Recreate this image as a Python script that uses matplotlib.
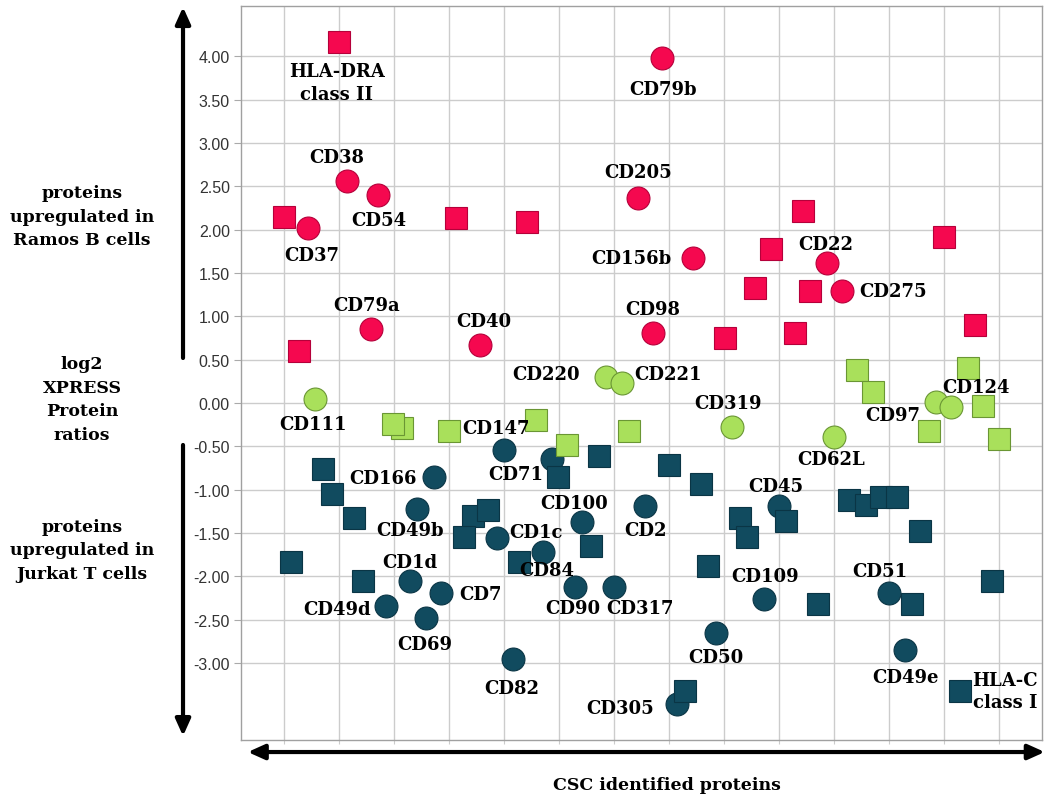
"""CSC proteins: log2 XPRESS ratios Ramos B vs Jurkat T."""
import matplotlib
matplotlib.use('Agg')
import matplotlib.pyplot as plt
from matplotlib.patches import FancyArrowPatch

# --- data ---
# proteins up in Ramos B cells
ramos_sq_x = [2.00, 1.00, 4.13, 5.42, 1.27, 10.44, 9.85, 13.00, 9.56, 10.56, 13.56, 9.02, 10.29]
ramos_sq_y = [4.17, 2.15, 2.13, 2.09, 0.60, 2.22, 1.78, 1.92, 1.33, 1.29, 0.90, 0.75, 0.81]
ramos_sq_names = ["HLA-DRA\nclass II", "", "", "", "", "", "", "", "", "", "", "", ""]

ramos_circ_x = [7.87, 7.44, 8.44, 10.87, 11.15, 7.71, 2.15, 2.71, 1.44, 2.58, 4.56]
ramos_circ_y = [3.98, 2.37, 1.67, 1.61, 1.29, 0.81, 2.56, 2.40, 2.02, 0.85, 0.67]
ramos_circ_names = ["CD79b", "CD205", "CD156b", "CD22", "CD275", "CD98",
                    "CD38", "CD54", "CD37", "CD79a", "CD40"]

# proteins near 0
mid_circ_x = [1.56, 6.85, 7.15, 9.15, 11.00, 12.85, 13.13]
mid_circ_y = [0.05, 0.30, 0.23, -0.28, -0.39, 0.01, -0.05]
mid_circ_names = ["CD111", "CD220", "CD221", "CD319", "CD62L", "CD97", "CD124"]

mid_sq_x = [3.15, 2.98, 4.00, 5.58, 6.15, 7.27, 11.42, 11.71, 13.44, 13.71, 12.73, 14.00]
mid_sq_y = [-0.29, -0.24, -0.32, -0.20, -0.49, -0.32, 0.38, 0.13, 0.40, -0.04, -0.32, -0.42]
mid_sq_names = ["", "", "CD147", "", "", "", "", "", "", "", "", ""]

# proteins up in Jurkat T cells
jurkat_circ_x = [5.00, 5.87, 6.42, 3.73, 3.42, 4.87, 7.56, 5.71, 10.00, 3.29, 3.85,
                 2.85, 3.58, 5.16, 6.29, 7.00, 9.73, 8.85, 8.15, 12.00, 12.29]
jurkat_circ_y = [-0.54, -0.65, -1.37, -0.85, -1.22, -1.56, -1.19, -1.72, -1.19, -2.06, -2.19,
                 -2.34, -2.48, -2.95, -2.13, -2.13, -2.26, -2.66, -3.47, -2.19, -2.85]
jurkat_circ_names = ["CD71", "", "CD100", "CD166", "CD49b", "CD1c", "CD2", "CD84", "CD45",
                     "CD1d", "CD7", "CD49d", "CD69", "CD82", "CD90", "CD317", "CD109",
                     "CD50", "CD305", "CD51", "CD49e"]

jurkat_sq_x = [1.71, 1.87, 2.27, 4.44, 4.71, 4.27, 5.98, 6.73, 6.58, 5.27, 1.13, 2.44,
               8.00, 8.58, 9.29, 9.42, 10.13, 11.27, 11.58, 11.85, 12.15, 12.56,
               8.71, 10.71, 12.42, 13.87, 8.29, 13.29]
jurkat_sq_y = [-0.76, -1.05, -1.33, -1.30, -1.24, -1.55, -0.85, -0.61, -1.65, -1.84, -1.84, -2.05,
               -0.72, -0.94, -1.33, -1.55, -1.36, -1.12, -1.18, -1.09, -1.09, -1.48,
               -1.88, -2.32, -2.32, -2.05, -3.32, -3.32]
jurkat_sq_names = [""] * 27 + ["HLA-C\nclass I"]

y_ticks = [4.0, 3.5, 3.0, 2.5, 2.0, 1.5, 1.0, 0.5, 0.0, -0.5, -1.0, -1.5, -2.0, -2.5, -3.0]

# label offsets from the marker, in pixels (dx right, dy up)
label_offsets = {
    "HLA-DRA\nclass II": (-2, -41), "CD79b": (1, -31), "CD205": (0, 26),
    "CD156b": (-62, 0), "CD22": (-1, 19), "CD275": (51, 0), "CD98": (0, 24),
    "CD38": (-10, 24), "CD54": (1, -25), "CD37": (4, -27), "CD79a": (-4, 24),
    "CD40": (4, 24),
    "CD111": (-2, -25), "CD220": (-60, 3), "CD221": (46, 9), "CD319": (-4, 24),
    "CD62L": (-3, -22), "CD97": (-43, -13), "CD124": (25, 20), "CD147": (47, 3),
    "CD71": (12, -24), "CD100": (-8, 19), "CD166": (-51, -1), "CD49b": (-7, -21),
    "CD1c": (39, 6), "CD2": (1, -24), "CD84": (4, -18), "CD45": (-3, 20),
    "CD1d": (0, 19), "CD7": (40, -1), "CD49d": (-49, -3), "CD69": (-1, -26),
    "CD82": (-1, -29), "CD90": (-2, -21), "CD317": (26, -21), "CD109": (1, 23),
    "CD50": (0, -24), "CD305": (-57, -4), "CD51": (-9, 22), "CD49e": (0, -27),
    "HLA-C\nclass I": (45, 0),
}

RED, RED_EDGE = '#F5084F', '#B5003A'
GREEN, GREEN_EDGE = '#A9E05B', '#6A9634'
TEAL, TEAL_EDGE = '#114B5F', '#0A3545'
MS = 16.5
SERIF = 'DejaVu Serif'

fig = plt.figure(figsize=(10.5, 8.04), dpi=100)
ax = fig.add_axes([241 / 1050, 1 - 741 / 804, 801 / 1050, 734 / 804])


def draw(xs, ys, names, marker, face, edge):
    ax.plot(xs, ys, linestyle='none', marker=marker, markersize=MS,
            markerfacecolor=face, markeredgecolor=edge, markeredgewidth=0.8, zorder=3)
    for x, y, name in zip(xs, ys, names):
        if not name:
            continue
        dx, dy = label_offsets[name]
        ax.annotate(name, (x, y), xytext=(dx, dy), textcoords='offset pixels',
                    ha='center', va='center', fontsize=13, fontweight='bold',
                    family=SERIF, linespacing=1.3, zorder=5)


draw(jurkat_circ_x, jurkat_circ_y, jurkat_circ_names, 'o', TEAL, TEAL_EDGE)
draw(jurkat_sq_x, jurkat_sq_y, jurkat_sq_names, 's', TEAL, TEAL_EDGE)
draw(mid_circ_x, mid_circ_y, mid_circ_names, 'o', GREEN, GREEN_EDGE)
draw(mid_sq_x, mid_sq_y, mid_sq_names, 's', GREEN, GREEN_EDGE)
draw(ramos_circ_x, ramos_circ_y, ramos_circ_names, 'o', RED, RED_EDGE)
draw(ramos_sq_x, ramos_sq_y, ramos_sq_names, 's', RED, RED_EDGE)

ax.set_xlim(0.22, 14.78)
ax.set_ylim(-3.89, 4.58)
ax.set_xticks(range(1, 15))
ax.set_xticklabels([])
ax.set_yticks(y_ticks)
ax.set_yticklabels([f"{t:.2f}" for t in y_ticks], family='Liberation Sans',
                   fontsize=11.5, color='#333333')
ax.tick_params(axis='y', length=5, color='#AAAAAA', pad=3)
ax.tick_params(axis='x', length=3, color='#CCCCCC')
ax.grid(True, color='#CCCCCC', linewidth=1)
ax.set_axisbelow(True)
for sp in ax.spines.values():
    sp.set_color('#A0A0A0')
    sp.set_linewidth(1)


def arrow(p0, p1, style):
    fig.add_artist(FancyArrowPatch(p0, p1, transform=fig.transFigure,
                                   arrowstyle=style, mutation_scale=10,
                                   linewidth=3, color='black', shrinkA=0, shrinkB=0))


head = "head_length=1.0,head_width=0.45"
arrow((0.1743, 0.5535), (0.1743, 0.990), "-|>," + head)
arrow((0.1743, 0.4453), (0.1743, 0.0833), "-|>," + head)
arrow((0.236, 0.0634), (0.995, 0.0634), "<|-|>," + head)

side_kw = dict(ha='center', va='center', fontsize=12.5, fontweight='bold',
               family=SERIF, linespacing=1.5)
fig.text(82 / 1050, 1 - 217 / 804, "proteins\nupregulated in\nRamos B cells", **side_kw)
fig.text(82 / 1050, 1 - 400 / 804, "log2\nXPRESS\nProtein\nratios", **side_kw)
fig.text(82 / 1050, 1 - 551 / 804, "proteins\nupregulated in\nJurkat T cells", **side_kw)
fig.text(667 / 1050, 1 - 786 / 804, "CSC identified proteins", **side_kw)

plt.savefig("out.png", dpi=100)
